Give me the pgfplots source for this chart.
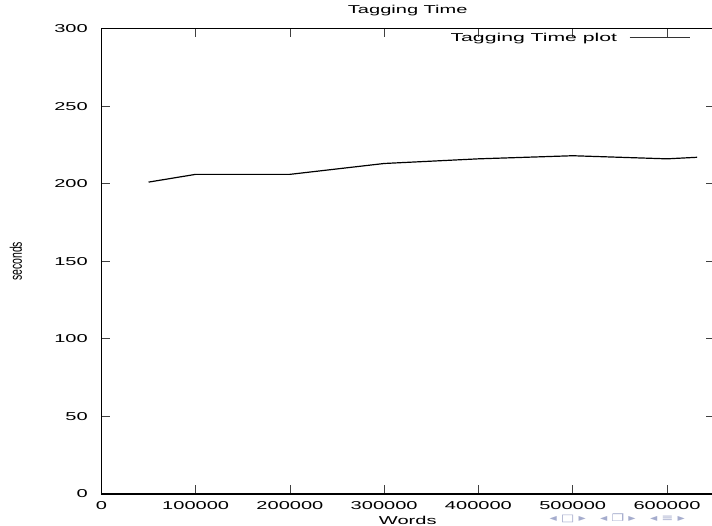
\documentclass[border=0pt]{standalone}
\usepackage{fontspec}
\setmainfont{Liberation Sans}
\newfontfamily\symfont{DejaVu Sans}
\usepackage{graphicx}
\usepackage{pgfplots}
\pgfplotsset{compat=1.18}
\newcommand{\gfont}{\fontsize{11.5}{13.8}\selectfont}
\newcommand{\wide}[1]{\scalebox{1.75}[1]{#1}}

\begin{document}
\begin{tikzpicture}
\useasboundingbox (-101.4bp,-32bp) rectangle (610.6bp,494bp);
\begin{axis}[
    scale only axis,
    width=612.7bp, height=465.5bp,
    xmin=0, xmax=650000,
    ymin=0, ymax=300,
    xtick={0,100000,200000,300000,400000,500000,600000},
    ytick={0,50,100,150,200,250,300},
    scaled x ticks=false,
    /pgf/number format/assume math mode=true,
    xticklabel={\wide{\pgfmathprintnumber[fixed,precision=0,1000 sep={}]{\tick}}},
    yticklabel={\wide{\pgfmathprintnumber[fixed,precision=0]{\tick}}},
    tick label style={font=\gfont},
    xticklabel style={anchor=base, inner sep=0pt, yshift=-15bp},
    yticklabel style={anchor=east, inner sep=0pt, xshift=-13.4bp},
    tick align=inside,
    major tick length=8.5bp,
    major tick style={line width=0.8bp, black!75},
    axis line style={line width=1.6bp},
    title={\wide{Tagging Time}},
    title style={font=\gfont, at={(0.5,1)}, anchor=base, inner sep=0pt, yshift=9.2bp},
    xlabel={\wide{Words}},
    xlabel style={font=\gfont, at={(axis description cs:0.5,0)}, anchor=base, inner sep=0pt, yshift=-30bp},
    ylabel={\scalebox{1}[1.6]{seconds}},
    ylabel style={font=\fontsize{10.5}{12}\selectfont, at={(axis description cs:-0.1394,0.5)}, anchor=center, inner sep=0pt},
    legend plot pos=right,
    legend cell align=right,
    legend style={draw=none, fill=none, at={(0.961,0.98)}, anchor=east,
        inner sep=0pt, font=\gfont, nodes={inner sep=0pt}, column sep=12bp},
    legend image code/.code={
        \draw[black!80, line width=0.9bp] (0,0) -- (60bp,0);
    },
]
\addplot[black, line width=1.2bp] coordinates {
    (50000,201) (100000,206) (200000,206) (300000,213)
    (400000,216) (500000,218) (600000,216) (632000,217)
};
\addlegendentry{\scalebox{1.85}[1]{Tagging Time plot}}
\end{axis}
\node[anchor=west, inner sep=0pt, text={rgb,255:red,165;green,172;blue,205},
      font=\symfont\fontsize{10}{11}\selectfont]
    at (448bp,-24.5bp) {\scalebox{1.45}[1]{◂\;□\;▸\quad◂\;❐\;▸\quad◂\;≡\;▸}};
\end{tikzpicture}
\end{document}
